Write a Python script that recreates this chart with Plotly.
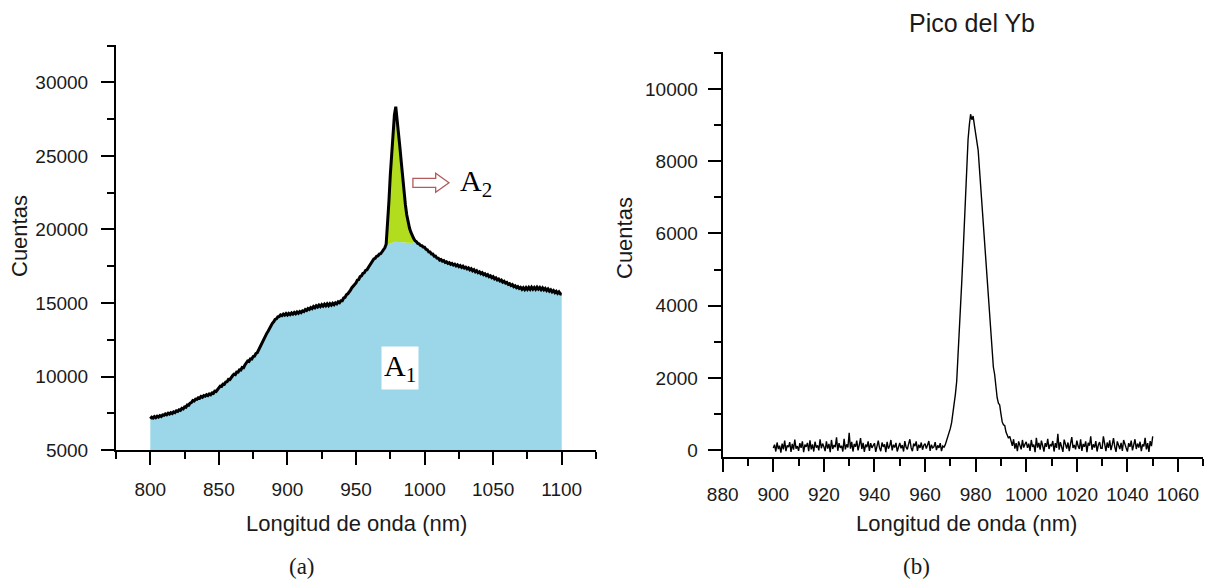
import plotly.graph_objects as go

W, H = 1209, 587

# ---------------- (a) full spectrum, 800-1100 nm, 1 nm step ----------------
long_a_inicio = 800
cuentas_a = [
    7130, 7230, 7170, 7270, 7200, 7300, 7240, 7340, 7280, 7380,
    7360, 7460, 7400, 7500, 7440, 7540, 7480, 7590, 7540, 7660,
    7620, 7740, 7700, 7830, 7790, 7930, 7910, 8060, 8040, 8190,
    8230, 8360, 8330, 8460, 8440, 8550, 8520, 8640, 8590, 8700,
    8660, 8760, 8700, 8810, 8760, 8880, 8850, 9000, 8980, 9130,
    9220, 9340, 9330, 9480, 9470, 9620, 9640, 9800, 9790, 9950,
    10050, 10160, 10130, 10300, 10290, 10450, 10440, 10620, 10600, 10780,
    10900, 11060, 11030, 11200, 11180, 11360, 11380, 11560, 11620, 11820,
    12020, 12220, 12360, 12600, 12720, 12950, 13090, 13300, 13420, 13620,
    13720, 13880, 13920, 14060, 14080, 14190, 14140, 14250, 14170, 14280,
    14180, 14290, 14210, 14320, 14240, 14360, 14270, 14390, 14300, 14420,
    14350, 14470, 14420, 14550, 14490, 14620, 14560, 14690, 14620, 14760,
    14680, 14810, 14730, 14860, 14760, 14890, 14790, 14920, 14810, 14940,
    14820, 14950, 14850, 14980, 14880, 15010, 14940, 15080, 15020, 15160,
    15160, 15340, 15380, 15560, 15620, 15800, 15880, 16040, 16130, 16280,
    16370, 16560, 16600, 16790, 16840, 17010, 17050, 17220, 17260, 17420,
    17560, 17740, 17830, 18000, 18040, 18180, 18200, 18330, 18350, 18490,
    18560, 18750, 19000, 20200, 21900, 23700, 25300, 26600, 27800, 28350,
    27500, 26800, 25600, 24600, 23500, 22600, 21700, 21000, 20500, 20100,
    19820, 19560, 19400, 19240, 19180, 19050, 19030, 18920, 18900, 18800,
    18790, 18650, 18620, 18480, 18470, 18330, 18330, 18180, 18190, 18060,
    18050, 17920, 17960, 17840, 17880, 17760, 17800, 17690, 17740, 17630,
    17690, 17580, 17640, 17520, 17590, 17470, 17540, 17420, 17500, 17380,
    17440, 17320, 17390, 17260, 17330, 17190, 17260, 17120, 17200, 17060,
    17120, 16990, 17060, 16930, 16990, 16860, 16930, 16790, 16850, 16720,
    16790, 16640, 16710, 16570, 16630, 16500, 16560, 16420, 16480, 16350,
    16400, 16270, 16320, 16190, 16250, 16110, 16170, 16040, 16110, 15990,
    16060, 15930, 16040, 15910, 16050, 15920, 16060, 15930, 16070, 15940,
    16060, 15930, 16070, 15940, 16050, 15910, 16030, 15890, 15990, 15850,
    15950, 15810, 15900, 15760, 15850, 15710, 15800, 15660, 15760, 15620,
    15600,
]
long_a = [long_a_inicio + i for i in range(len(cuentas_a))]

# Background (A1) level under the Yb peak, 972-992 nm
pico_a_inicio = 972
fondo_pico_a = [
    18950, 18990, 19030, 19070, 19100, 19130, 19150, 19160, 19160, 19160,
    19150, 19140, 19130, 19120, 19110, 19100, 19090, 19080, 19080, 19080,
    19080,
]
long_pico_a = [pico_a_inicio + i for i in range(len(fondo_pico_a))]
cuentas_pico_a = [cuentas_a[l - long_a_inicio] for l in long_pico_a]

# A1 region: spectrum with the peak replaced by the background level
cuentas_a1 = list(cuentas_a)
for l, f in zip(long_pico_a, fondo_pico_a):
    cuentas_a1[l - long_a_inicio] = f

# ---------------- (b) Yb peak, 900-1050 nm, 0.5 nm step ----------------
long_b_inicio = 900
paso_b = 0.5
cuentas_b = [
    # 900 - 959.5
    60, 150, -40, 210, 30, 120, -70, 180, 20, 260, -30, 130, 80, 220, -50, 170, 10, 290, 40, 110,
    -20, 190, 60, 240, -60, 150, 90, 200, -30, 270, 20, 160, -40, 230, 70, 130, -10, 300, 50, 180,
    90, -30, 240, 40, 170, -60, 280, 30, 140, 80, 350, -20, 190, 60, 120, -40, 310, 20, 160, 70,
    480, 40, 230, -40, 170, 90, 260, -10, 140, 330, 30, 200, -50, 150, 80, 240, -20, 190, 60, 110,
    190, -50, 120, 260, 60, -30, 210, 90, 160, -60, 230, 40, 110, 280, -10, 150, 70, 200, -40, 130,
    200, 50, 140, -40, 250, 80, 20, 170, 300, 60, -30, 180, 110, 240, -20, 150, 60, 210, 10, 130,
    # 960 - 967.5
    180, 40, 130, 250, -20, 150, 60, 90, 220, 0, 130, 60, 190, -30, 110, 80,
    # 968 - 993.5 (peak)
    150, 260, 350, 450, 600, 760, 1000, 1250, 1550, 1900, 2500, 3150, 3900, 4650, 5400, 6300,
    7100, 7900, 8600, 9000, 9300, 9150, 9250, 9000, 8800, 8600, 8300, 7800, 7300, 6700,
    6100, 5600, 5100, 4700, 4300, 3800, 3300, 2800, 2300, 2100, 1700, 1450, 1300, 1250,
    1000, 780, 700, 680, 500, 420, 330, 380,
    # 994 - 999.5
    260, 120, 300, 40, 190, -30, 240, 110, 20, 280, 70, 160,
    # 1000 - 1050
    230, 60, 180, -20, 280, 90, 150, -60, 340, 70, 200, 10, 260, 120, -40, 190, 90, 310, 30, 150,
    120, 250, -40, 190, 60, 450, 10, 220, 80, -50, 290, 130, 40, 210, -30, 170, 360, 60, 140, 20,
    260, 110, 30, 300, -20, 170, 90, 240, -60, 200, 120, 380, 10, 160, 70, 250, -40, 140, 220, 50,
    50, 380, 120, -30, 210, 60, 270, 0, 150, 330, 90, -50, 240, 110, 30, 200, -20, 280, 140, 60,
    -40, 190, 90, 260, -10, 140, 300, 30, 180, 70, 230, -30, 160, 100, 340, 20, 190, -50, 250, 110,
    380,
]
long_b = [long_b_inicio + paso_b * i for i in range(len(cuentas_b))]

AZUL = "#9bd7e8"
VERDE = "#b2dc1e"
FLECHA = "#b45a5c"
TXT = "#1a1a1a"
SANS = "Liberation Sans, Arial, sans-serif"
SERIF = "Liberation Serif, Times New Roman, serif"

fig = go.Figure()

# (a) A1 area
fig.add_trace(go.Scatter(x=long_a, y=cuentas_a1, mode="lines",
                         line=dict(width=0, color=AZUL), fill="tozeroy",
                         fillcolor=AZUL, xaxis="x", yaxis="y",
                         hoverinfo="skip"))
# (a) A2 area between background and peak
fig.add_trace(go.Scatter(x=long_pico_a, y=fondo_pico_a, mode="lines",
                         line=dict(width=0, color=VERDE), xaxis="x", yaxis="y",
                         hoverinfo="skip"))
fig.add_trace(go.Scatter(x=long_pico_a, y=cuentas_pico_a, mode="lines",
                         line=dict(width=0, color=VERDE), fill="tonexty",
                         fillcolor=VERDE, xaxis="x", yaxis="y",
                         hoverinfo="skip"))
# (a) measured spectrum
fig.add_trace(go.Scatter(x=long_a, y=cuentas_a, mode="lines",
                         line=dict(width=3, color="black"),
                         xaxis="x", yaxis="y"))
# (b) Yb peak spectrum
fig.add_trace(go.Scatter(x=long_b, y=cuentas_b, mode="lines",
                         line=dict(width=1.4, color="black"),
                         xaxis="x2", yaxis="y2"))

eje = dict(showline=True, linewidth=2, linecolor="black", ticks="outside",
           ticklen=13, tickwidth=2, tickcolor="black", showgrid=False,
           zeroline=False, automargin=False, tickformat="d",
           tickmode="linear",
           tickfont=dict(family=SANS, size=19, color=TXT))

def menor(paso, inicio):
    return dict(tickmode="linear", dtick=paso, tick0=inicio, ticks="outside",
                ticklen=7, tickwidth=2, tickcolor="black", showgrid=False)

def px_x(p):
    return p / W

def px_y(p):
    return 1 - p / H

fig.update_layout(
    template="none",
    width=W, height=H, margin=dict(l=0, r=0, t=0, b=0, pad=0),
    paper_bgcolor="white", plot_bgcolor="white", showlegend=False,
    xaxis=dict(eje, domain=[px_x(116), px_x(596)], range=[775, 1125],
               tick0=800, dtick=50, anchor="y", ticklabelstandoff=8,
               minor=menor(25, 775)),
    yaxis=dict(eje, domain=[px_y(450), px_y(45)], range=[5000, 32550],
               tick0=5000, dtick=5000, anchor="x", ticklabelstandoff=9,
               minor=menor(2500, 5000)),
    xaxis2=dict(eje, domain=[px_x(722.7), px_x(1203.3)], range=[880, 1070],
                tick0=880, dtick=20, anchor="y2", ticklabelstandoff=6,
                minor=menor(10, 880)),
    yaxis2=dict(eje, domain=[px_y(457.3), px_y(52)], range=[-200, 11025],
                tick0=0, dtick=2000, anchor="x2", ticklabelstandoff=6,
                minor=menor(1000, 0)),
)

def texto(t, x, y, size, family=SANS, angle=0):
    fig.add_annotation(text=t, xref="paper", yref="paper", x=px_x(x),
                       y=px_y(y), xanchor="center", yanchor="middle",
                       showarrow=False, textangle=angle,
                       font=dict(family=family, size=size, color=TXT))

texto("Cuentas", 19, 236, 22, angle=-90)
texto("Cuentas", 624, 238, 22, angle=-90)
texto("Longitud de onda (nm)", 356, 523, 22)
texto("Longitud de onda (nm)", 966, 523, 22)
texto("(a)", 302, 566, 23, family=SERIF)
texto("(b)", 916, 566, 23, family=SERIF)
texto("Pico del Yb", 972, 23, 25)

# Area labels
fig.add_annotation(text="A<sub>1</sub>", x=981.8, y=10580, xref="x", yref="y",
                   showarrow=False, bgcolor="white", borderpad=2,
                   font=dict(family=SERIF, size=30, color="black"))
fig.add_annotation(text="A<sub>2</sub>", x=1037.5, y=23160, xref="x", yref="y",
                   showarrow=False,
                   font=dict(family=SERIF, size=30, color="black"))
# Hollow arrow pointing at the A2 label
fig.add_shape(type="path", xref="x", yref="y",
              path="M 991.5,23484 L 1008.1,23484 L 1008.1,23820 L 1017.8,23180 "
                   "L 1008.1,22530 L 1008.1,22870 L 991.5,22870 Z",
              line=dict(color=FLECHA, width=1.3), fillcolor="rgba(0,0,0,0)")

fig.write_html("out.html")
